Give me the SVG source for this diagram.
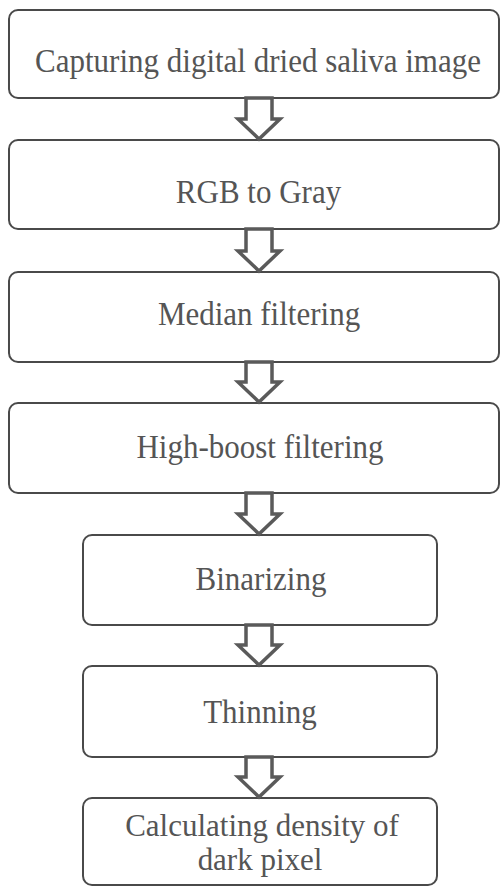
<svg xmlns="http://www.w3.org/2000/svg" width="501" height="888" viewBox="0 0 501 888">
<style>
.box{fill:#fff;stroke:#4a4a4a;stroke-width:2}
.lbl{font-family:'Liberation Serif','DejaVu Serif',serif;font-size:31px;fill:#555;text-anchor:middle}
.arr{fill:#fff;stroke:#5a5a5a;stroke-width:3.5;stroke-linejoin:miter}
</style>
<rect width="501" height="888" fill="#fff"/>
<g id="n1"><rect class="box" x="9" y="10" width="490" height="88" rx="9"/><text class="lbl" transform="translate(258,72) scale(1,1.1)">Capturing digital dried saliva image</text></g>
<g id="n2"><rect class="box" x="9" y="140" width="490" height="89" rx="9"/><text class="lbl" transform="translate(258.5,203) scale(1,1.1)">RGB to Gray</text></g>
<g id="n3"><rect class="box" x="9" y="272" width="490" height="90" rx="9"/><text class="lbl" transform="translate(259,325) scale(1,1.1)">Median filtering</text></g>
<g id="n4"><rect class="box" x="9" y="403" width="490" height="90" rx="9"/><text class="lbl" transform="translate(260,458) scale(1,1.1)">High-boost filtering</text></g>
<g id="n5"><rect class="box" x="83" y="535" width="354" height="90" rx="9"/><text class="lbl" transform="translate(261,590) scale(1,1.1)">Binarizing</text></g>
<g id="n6"><rect class="box" x="83" y="666" width="354" height="91" rx="9"/><text class="lbl" transform="translate(260,723) scale(1,1.1)">Thinning</text></g>
<g id="n7"><rect class="box" x="83" y="798" width="354" height="87" rx="9"/><text class="lbl" transform="translate(262,836) scale(1,1.05)">Calculating density of</text><text class="lbl" transform="translate(260,870) scale(1,1.05)">dark pixel</text></g>
<g id="connectors">
<path class="arr" d="M246,98 V119 H238 L259,139 L280,119 H272 V98 Z"/>
<path class="arr" d="M246,229 V251 H238 L259,271 L280,251 H272 V229 Z"/>
<path class="arr" d="M246,362 V382 H238 L259,402 L280,382 H272 V362 Z"/>
<path class="arr" d="M246,493 V514 H238 L259,534 L280,514 H272 V493 Z"/>
<path class="arr" d="M246,625 V645 H238 L259,665 L280,645 H272 V625 Z"/>
<path class="arr" d="M246,757 V777 H238 L259,797 L280,777 H272 V757 Z"/>
</g>
</svg>
